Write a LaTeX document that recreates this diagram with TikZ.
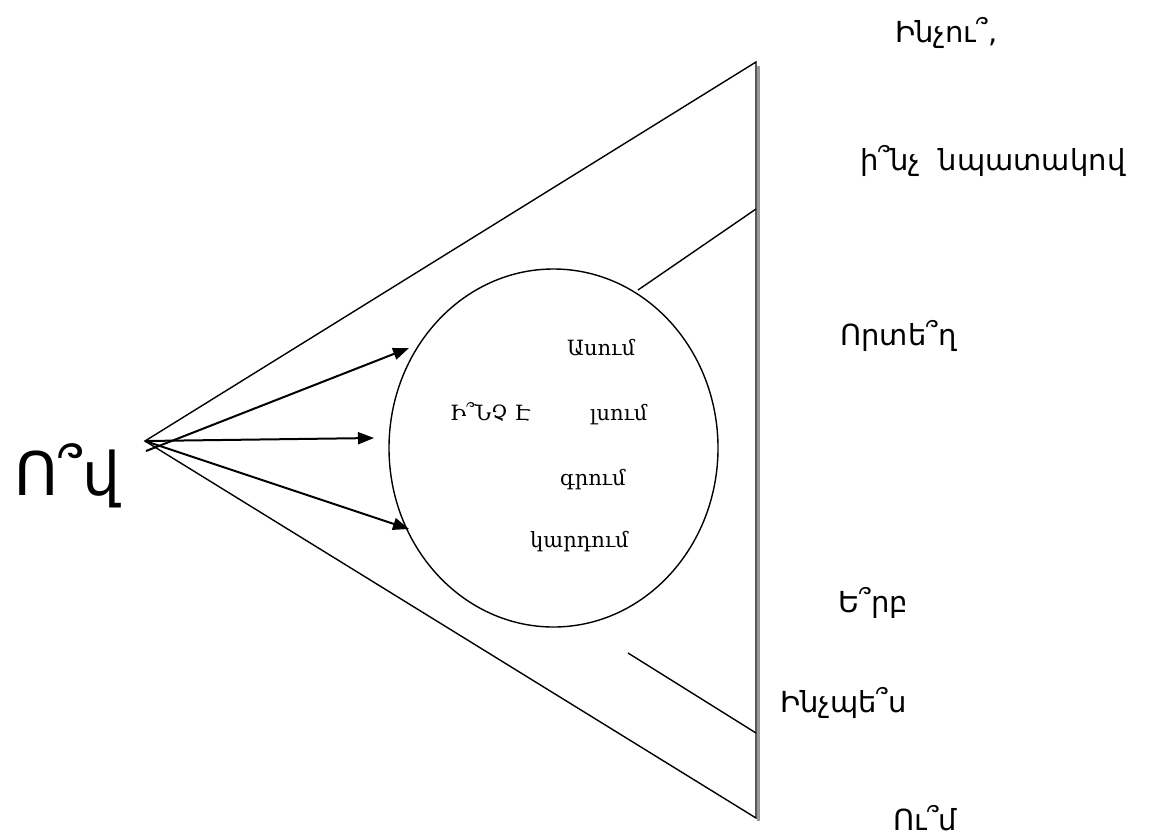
\documentclass[tikz,border=0pt]{standalone}
\usepackage{fontspec}
\usetikzlibrary{arrows.meta,shapes.geometric}
\newfontfamily\armsans[Script=Armenian]{DejaVu Sans}
\newfontfamily\armserif[Script=Armenian]{DejaVu Serif}
\begin{document}
\begin{tikzpicture}[x=1pt,y=-1pt,
  edge/.style={line width=1.4pt,black},
  arr/.style={line width=2pt,-{Triangle[length=16pt,width=12pt]}},
  outer/.style={anchor=base west,inner sep=0pt,font=\armsans\fontsize{29}{33}\selectfont},
  inner/.style={anchor=base west,inner sep=0pt,font=\armserif\fontsize{21}{25}\selectfont}]
\useasboundingbox (0,0) rectangle (1156,836);
\fill[white] (0,0) rectangle (1156,836);
% triangle
\coordinate (A) at (145,441);
\coordinate (T) at (756,62);
\coordinate (B) at (756,818);
\coordinate (Ts) at (758.4,66);
\coordinate (Bs) at (758.4,821);
\draw[line width=3pt,gray!80] (Ts) -- (Bs);
\draw[edge] (A) -- (T) -- (B) -- cycle;
% ellipse
\node[draw,ellipse,line width=1.4pt,minimum width=329pt,minimum height=358pt,inner sep=0pt] (c) at (553.5,448) {};
% inner short lines
\coordinate (u1) at (638,290);
\coordinate (u2) at (756,209);
\coordinate (l1) at (628,653);
\coordinate (l2) at (756,733);
\draw[edge] (u1) -- (u2);
\draw[edge] (l1) -- (l2);
% arrows
\coordinate (t1) at (146,451);
\coordinate (h1) at (409,348);
\coordinate (h2) at (374,438);
\coordinate (h3) at (409,529);
\draw[arr] (t1) -- (h1);
\draw[arr] (A) -- (h2);
\draw[arr] (A) -- (h3);
% texts
\node[anchor=base west,inner sep=0pt,font=\armsans\fontsize{60}{64}\selectfont] (who) at (14,495) {Ո՞վ};
\node[outer] (why) at (895,42) {Ինչու՞,};
\node[outer] (aim) at (860,170) {ի՞նչ\ \ նպատակով};
\node[outer] (where) at (840,345) {Որտե՞ղ};
\node[outer] (when) at (838,612) {Ե՞րբ};
\node[outer] (how) at (780,712) {Ինչպե՞ս};
\node[outer] (whom) at (893,830) {Ու՞մ};
\node[inner] (s1) at (567,355) {Ասում};
\node[inner] (what) at (450,420) {Ի՞ՆՉ Է};
\node[inner] (s2) at (590,420) {լսում};
\node[inner] (s3) at (560,485) {գրում};
\node[inner] (s4) at (530,547) {կարդում};
\end{tikzpicture}
\end{document}
